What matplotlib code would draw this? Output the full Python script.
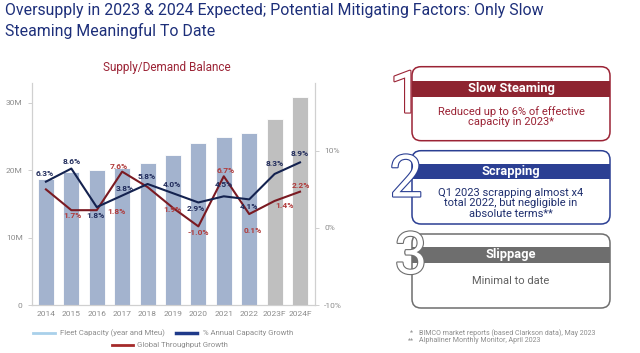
import matplotlib
matplotlib.use("Agg")
import matplotlib.pyplot as plt
import matplotlib.patheffects as pe
from matplotlib.patches import FancyBboxPatch, Rectangle
from matplotlib import font_manager

# --- data ---
years = ["2014", "2015", "2016", "2017", "2018", "2019", "2020", "2021", "2022", "2023F", "2024F"]
fleet_capacity = [18.7, 19.75, 20.0, 20.3, 21.1, 22.3, 24.0, 24.9, 25.5, 27.5, 30.8]  # Mteu
capacity_growth = [6.0, 7.7, 2.7, 4.2, 5.7, 4.5, 3.3, 4.1, 3.7, 7.0, 8.5]       # %
throughput_growth = [5.0, 2.3, 2.3, 7.3, 5.3, 2.6, 0.2, 6.7, 1.8, 3.5, 4.7]     # %
capacity_labels = ["6.3%", "8.6%", "1.8%", "3.8%", "5.8%", "4.0%", "2.9%", "4.5%", "4.1%", "8.3%", "8.9%"]
throughput_labels = [None, "1.7%", "1.8%", "7.6%", None, "1.9%", "-1.0%", "6.7%", "0.1%", "1.4%", "2.2%"]

# label placement (pixels, relative to the point)
cap_offsets = [(-1, 8), (0, 7), (-1, -8), (3, 7), (-1, 7), (-1, 9), (-3, -6), (0, 12), (0, -7), (0, 10), (0, 9)]
thr_offsets = [None, (1, -5), (20, -1), (-3, 5), None, (-1, -2), (0, -6), (2, 6), (4, -16), (10, -5), (1, 6)]

NAVY = "#1D2F7A"
LINE_NAVY = "#14224F"
DARK_RED = "#7A1A22"
RED = "#9B2335"
GRAY_TXT = "#8C8C8C"

names = {f.name for f in font_manager.fontManager.ttflist}
FONT = "Liberation Sans Narrow" if "Liberation Sans Narrow" in names else "Roboto"
plt.rcParams["font.family"] = [FONT, "DejaVu Sans"]

W, H = 640, 353
fig = plt.figure(figsize=(6.4, 3.53), dpi=100)

# --- chart ---
ax = fig.add_axes([31.7 / W, 1 - 305 / H, (315 - 31.7) / W, (305 - 83) / H])
x = list(range(len(years)))
bar_colors = ["#BFBFBF" if y.endswith("F") else "#A3B3CE" for y in years]
ax.bar(x, fleet_capacity, width=0.63, color=bar_colors, edgecolor="white", linewidth=0.6, zorder=1)
ax.set_xlim(-0.56, 10.59)
ax.set_ylim(0, 32.9)
ax.set_yticks([0, 10, 20, 30])
ax.set_yticklabels(["0", "10M", "20M", "30M"])
ax.set_xticks(x)
ax.set_xticklabels(years)

ax2 = ax.twinx()
ax2.set_ylim(-10, 18.8)
ax2.set_yticks([-10, 0, 10])
ax2.set_yticklabels(["-10%", "0%", "10%"])
ax2.plot(x, throughput_growth, color=DARK_RED, lw=1.5, zorder=3)
ax2.plot(x, capacity_growth, color=LINE_NAVY, lw=1.5, zorder=4)

for xi, v, lab, off in zip(x, capacity_growth, capacity_labels, cap_offsets):
    ax2.annotate(lab, (xi, v), xytext=off, textcoords="offset pixels", ha="center", va="center",
                 fontsize=6, color="#1F2A5A", fontweight="bold", zorder=6)
for xi, v, lab, off in zip(x, throughput_growth, throughput_labels, thr_offsets):
    if lab is None:
        continue
    ax2.annotate(lab, (xi, v), xytext=off, textcoords="offset pixels", ha="center", va="center",
                 fontsize=6, color="#B03A3A", fontweight="bold", zorder=6)

for a in (ax, ax2):
    a.spines["top"].set_visible(False)
    for s in ("left", "right", "bottom"):
        a.spines[s].set_color("#D0D0D0")
        a.spines[s].set_linewidth(0.8)
    a.tick_params(colors="#C8C8C8", labelcolor=GRAY_TXT, labelsize=6, length=3, width=0.6)
ax.tick_params(axis="x", length=0, pad=4)
ax.set_zorder(ax2.get_zorder() - 1)
ax2.patch.set_visible(False)

# --- overlay for text, legend and boxes (pixel coordinates) ---
ov = fig.add_axes([0, 0, 1, 1], zorder=10)
ov.set_xlim(0, W)
ov.set_ylim(H, 0)
ov.axis("off")

ov.text(5, 11, "Oversupply in 2023 & 2024 Expected; Potential Mitigating Factors: Only Slow",
        fontsize=11.4, color=NAVY, va="center", ha="left")
ov.text(5, 31, "Steaming Meaningful To Date", fontsize=11.4, color=NAVY, va="center", ha="left")
ov.text(167, 68, "Supply/Demand Balance", fontsize=8.5, color=RED, ha="center", va="center")

# legend
ov.plot([33, 55], [333, 333], color="#A9D0EA", lw=2)
ov.text(60, 333, "Fleet Capacity (year and Mteu)", fontsize=5.6, color=GRAY_TXT, va="center")
ov.plot([176, 197], [333, 333], color="#1F3A8A", lw=2.5)
ov.text(203, 333, "% Annual Capacity Growth", fontsize=5.6, color=GRAY_TXT, va="center")
ov.plot([112, 133], [345, 345], color="#A52A2A", lw=2)
ov.text(137, 345, "Global Throughput Growth", fontsize=5.6, color=GRAY_TXT, va="center")

# mitigating factor boxes
boxes = [
    ("1", "Slow Steaming", "Reduced up to 6% of effective\ncapacity in 2023*", RED, "#8E2430", RED,
     66.7, 140.7, 80.7, 96.7, 116.5, 406, 97),
    ("2", "Scrapping", "Q1 2023 scrapping almost x4\ntotal 2022, but negligible in\nabsolute terms**", "#2B3F93",
     "#2B3F93", "#1F2F6E", 150.7, 224, 164, 178.7, 203.5, 406, 181),
    ("3", "Slippage", "Minimal to date", "#6E6E6E", "#6E6E6E", "#606060",
     234, 308, 246.7, 262.7, 281.5, 411, 258),
]
for num, head, body, edge, band, body_col, top, bot, htop, hbot, body_y, dx, dy in boxes:
    ov.add_patch(FancyBboxPatch((412, top), 198, bot - top,
                                boxstyle="round,pad=0,rounding_size=9",
                                facecolor="white", edgecolor=edge, lw=1.1, zorder=1))
    ov.add_patch(Rectangle((412, htop), 198, hbot - htop, facecolor=band, edgecolor="none", zorder=2))
    ov.text(511, (htop + hbot) / 2, head, fontsize=9.3, color="white", fontweight="bold",
            ha="center", va="center", zorder=3)
    ov.text(511, body_y, body, fontsize=8, color=body_col, ha="center", va="center",
            linespacing=1.05, zorder=3)
    ov.text(dx, dy, num, fontsize=42, color="white", ha="center", va="center", zorder=4,
            path_effects=[pe.withStroke(linewidth=1.6, foreground=edge)])

ov.text(410, 333, "*", fontsize=5.1, color=GRAY_TXT, va="center")
ov.text(419, 333, "BIMCO market reports (based Clarkson data), May 2023", fontsize=5.1, color=GRAY_TXT, va="center")
ov.text(408, 341, "**", fontsize=5.1, color=GRAY_TXT, va="center")
ov.text(419, 341, "Alphaliner Monthly Monitor, April 2023", fontsize=5.1, color=GRAY_TXT, va="center")

fig.savefig("out.png", dpi=100)
